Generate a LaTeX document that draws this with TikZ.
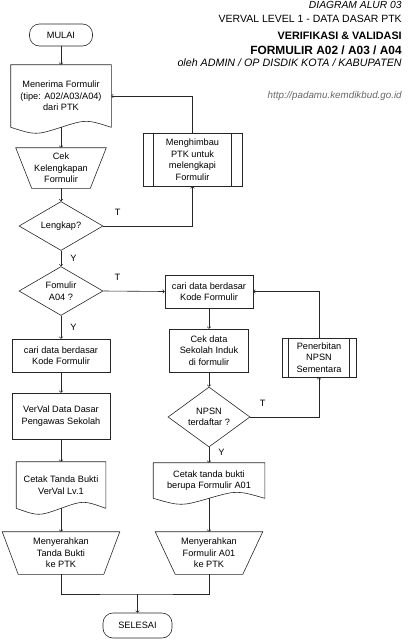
\documentclass[tikz,border=0pt]{standalone}
\usepackage{fontspec}
\setmainfont{Liberation Sans}
\usetikzlibrary{shapes.geometric,calc}
\newcommand{\teks}{\fontsize{9.2}{11.5}\selectfont}
\begin{document}
\begin{tikzpicture}[x=1pt,y=-1pt,line width=0.6pt,draw=black!85,
		kotak/.style={draw,rectangle,align=center,inner sep=0pt,font=\teks},
		terminal/.style={kotak,rounded corners=10pt},
		dokumen/.style={kotak,draw=none},
		manual/.style={kotak,draw=none},
		subproses/.style={kotak},
		keputusan/.style={draw,diamond,align=center,inner sep=0pt,font=\teks},
		alur/.style={->},
		ket/.style={font=\teks,inner sep=1pt},
		judul/.style={anchor=base east,inner sep=0pt}]

		\useasboundingbox (0,0) rectangle (410,640);

		% judul
		\draw (402,8.5) node (j1) [judul,font=\fontsize{10.3}{12}\selectfont\itshape] {DIAGRAM ALUR 03};
		\draw (402,22.5) node (j2) [judul,font=\fontsize{10.5}{12}\selectfont] {VERVAL LEVEL 1 - DATA DASAR PTK};
		\draw (402,39) node (j3) [judul,font=\fontsize{10.8}{13}\selectfont\bfseries] {VERIFIKASI \& VALIDASI};
		\draw (402,54) node (j4) [judul,font=\fontsize{11.9}{13}\selectfont\bfseries] {FORMULIR A02 / A03 / A04};
		\draw (402,66.5) node (j5) [judul,font=\fontsize{10.7}{12}\selectfont\itshape] {oleh ADMIN / OP DISDIK KOTA / KABUPATEN};
		\draw (402,98.5) node (url) [judul,text=black!60,font=\fontsize{9.8}{12}\selectfont\itshape] {http://padamu.kemdikbud.go.id};

		% kolom kiri
		\draw (61,35) node (mulai) [terminal,minimum width=63,minimum height=22] {MULAI};
		\draw (61,96) node (terima) [dokumen,minimum width=100,minimum height=62] {Menerima Formulir\\(tipe: A02/A03/A04)\\dari PTK};
		\draw (61,168) node (cek) [manual,minimum width=90,minimum height=40] {Cek\\Kelengkapan\\Formulir};
		\draw (61,226) node (lengkap) [keputusan,minimum width=84,minimum height=38] {Lengkap?};
		\draw (192.5,159.5) node (himbau) [subproses,minimum width=99,minimum height=53] {Menghimbau\\PTK untuk\\melengkapi\\Formulir};
		\draw (61,291) node (formA04) [keputusan,minimum width=84,minimum height=46] {Fomulir\\A04 ?};
		\draw (61,355.5) node (cariA) [kotak,minimum width=98,minimum height=33] {cari data berdasar\\Kode Formulir};
		\draw (61,416) node (verval) [kotak,minimum width=98,minimum height=46] {VerVal Data Dasar\\Pengawas Sekolah};
		\draw (61,485) node (cetakA) [dokumen,minimum width=89,minimum height=46] {Cetak Tanda Bukti\\VerVal Lv.1};
		\draw (61,553) node (serahA) [manual,minimum width=117,minimum height=42] {Menyerahkan\\Tanda Bukti\\ke PTK};

		% kolom kanan
		\draw (209,291.5) node (cariB) [kotak,minimum width=88,minimum height=33] {cari data berdasar\\Kode Formulir};
		\draw (209,350.5) node (cekinduk) [kotak,minimum width=79,minimum height=43] {Cek data\\Sekolah Induk\\di formulir};
		\draw (209,417) node (npsn) [keputusan,minimum width=82,minimum height=46] {NPSN\\terdaftar ?};
		\draw (319,357.5) node (npsnbaru) [subproses,minimum width=74,minimum height=39] {Penerbitan\\NPSN\\Sementara};
		\draw (209,480.5) node (cetakB) [dokumen,minimum width=111,minimum height=35] {Cetak tanda bukti\\berupa Formulir A01};
		\draw (209,553) node (serahB) [manual,minimum width=107,minimum height=42] {Menyerahkan\\Formulir A01\\ke PTK};

		\draw (137.5,625.5) node (selesai) [terminal,minimum width=69,minimum height=25] {SELESAI};
		\coordinate (gabung) at (137.5,594);

		% bentuk dokumen, manual, subproses
		\foreach \n in {terima,cetakA,cetakB}
			\draw (\n.south west) -- (\n.north west) -- (\n.north east) -- (\n.south east)
				.. controls ($(\n.south east)!0.5!(\n.south)+(0,-8)$) .. (\n.south)
				.. controls ($(\n.south)!0.5!(\n.south west)+(0,8)$) .. (\n.south west);
		\foreach \n/\d in {cek/16,serahA/16,serahB/20}
			\draw (\n.north west) -- (\n.north east) -- ([xshift=-\d]\n.south east) -- ([xshift=\d]\n.south west) -- cycle;
		\foreach \n/\d in {himbau/11,npsnbaru/7}
			\draw ([xshift=\d]\n.north west) -- ([xshift=\d]\n.south west)
				([xshift=-\d]\n.north east) -- ([xshift=-\d]\n.south east);

		% alur
		\draw[alur] (mulai.south) -- (terima.north);
		\draw[alur] (terima.south) -- (cek.north);
		\draw[alur] (cek.south) -- (lengkap.north);
		\draw[alur] (lengkap.east) -| node[ket,pos=0.08,above=9pt] {T} (himbau.south);
		\draw[alur] (himbau.north) |- (terima.east);
		\draw[alur] (lengkap.south) -- node[ket,right=8pt] {Y} (formA04.north);
		\draw[alur] (formA04.east) -- node[ket,pos=0.23,above=9pt] {T} (cariB.west);
		\draw[alur] (formA04.south) -- node[ket,right=8pt] {Y} (cariA.north);
		\draw[alur] (cariA) -- (verval);
		\draw[alur] (verval) -- (cetakA);
		\draw[alur] (cetakA.south) -- (serahA.north);
		\draw[alur] (cariB) -- (cekinduk);
		\draw[alur] (cekinduk) -- (npsn);
		\draw[alur] (npsn.east) -| node[ket,pos=0.09,above=9pt] {T} (npsnbaru.south);
		\draw[alur] (npsnbaru.north) |- (cariB.east);
		\draw[alur] (npsn.south) -- node[ket,pos=0.3,right=8pt] {Y} (cetakB.north);
		\draw[alur] (cetakB.south) -- (serahB.north);
		\draw (serahA.south) |- (gabung) -| (serahB.south);
		\draw[alur] (gabung) -- (selesai.north);
	\end{tikzpicture}
\end{document}
